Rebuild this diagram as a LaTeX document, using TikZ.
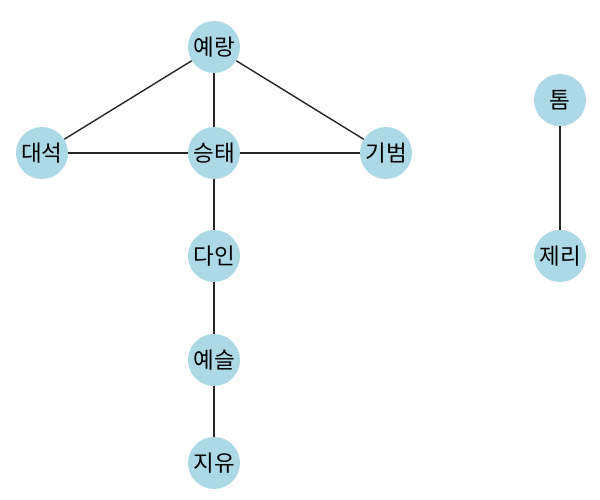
\documentclass[tikz,border=0pt]{standalone}
\usepackage{fontspec}
\newfontfamily\krfont{Noto Sans CJK KR}
\definecolor{nodeblue}{RGB}{173,216,230}
\tikzset{
    person/.style={circle,fill=nodeblue,minimum size=1.3cm,inner sep=0pt,font=\krfont\fontsize{16}{18}\selectfont},
    link/.style={draw=black!85,line width=1pt}
}

\begin{document}
\begin{tikzpicture}[x=0.025cm,y=-0.025cm]
            \useasboundingbox (0,0) rectangle (600,500);
            \node[person] (yerang) at (214,47) {예랑};
            \node[person] (daeseok) at (42,153) {대석};
            \node[person] (seungtae) at (214,153) {승태};
            \node[person] (gibeom) at (386,153) {기범};
            \node[person] (dain) at (214,256) {다인};
            \node[person] (yeseul) at (214,360) {예슬};
            \node[person] (jiyu) at (214,463) {지유};
            \node[person] (tom) at (560,100) {톰};
            \node[person] (jerry) at (560,256) {제리};
            \foreach \a/\b in {yerang/daeseok,yerang/seungtae,yerang/gibeom,daeseok/seungtae,seungtae/gibeom,seungtae/dain,dain/yeseul,yeseul/jiyu,tom/jerry}{
                \draw[link] (\a) -- (\b);
            }
        \end{tikzpicture}
\end{document}
